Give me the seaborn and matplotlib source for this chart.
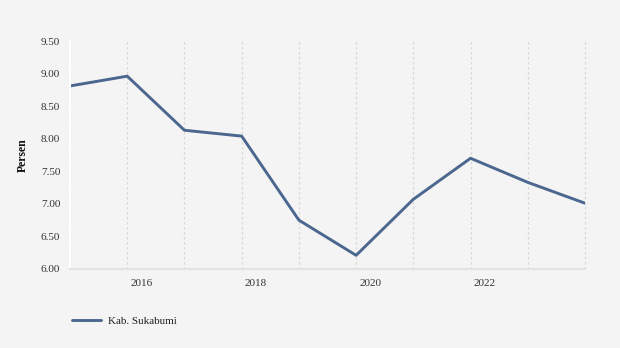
import matplotlib
matplotlib.use("Agg")
import matplotlib.pyplot as plt
import matplotlib.transforms as mtransforms
import seaborn as sns
import pandas as pd

years = [2015, 2016, 2017, 2018, 2019, 2020, 2021, 2022, 2023, 2024]
values = [8.81, 8.96, 8.13, 8.04, 6.75, 6.21, 7.07, 7.70, 7.33, 7.01]
series_name = "Kab. Sukabumi"
y_ticks = [6.00, 6.50, 7.00, 7.50, 8.00, 8.50, 9.00, 9.50]
x_tick_labels = [2016, 2018, 2020, 2022]

sns.set_style("white")
plt.rcParams['font.family'] = ['Liberation Serif', 'DejaVu Serif']

bg = "#f4f4f4"
fs = 8
fig = plt.figure(figsize=(6.2, 3.48), dpi=100, facecolor=bg)
ax = fig.add_axes([70/620, 1-269/348, (585-70)/620, (269-41)/348])
ax.set_facecolor(bg)

df = pd.DataFrame({"Tahun": years, "Persen": values, "Wilayah": series_name})
sns.lineplot(data=df, x="Tahun", y="Persen", hue="Wilayah", palette=["#4b678f"],
             linewidth=2.1, ax=ax, legend=True)

ax.set_xlim(2015, 2024)
ax.set_ylim(6.0, 9.5)

# vertical dotted gridlines at each year
for yr in years:
    ax.axvline(yr, color="#d8d8d8", linestyle=(0, (2, 2)), linewidth=0.9,
               zorder=0, clip_on=False)

ax.set_xticks(years)
ax.set_xticklabels([])
ax.tick_params(axis="x", which="both", length=4, width=1, color="#dddddd")

# x labels, shifted right of their gridlines
offset = mtransforms.ScaledTranslation(14/100, -15/100, fig.dpi_scale_trans)
trans = mtransforms.blended_transform_factory(ax.transData, ax.transAxes) + offset
for v in x_tick_labels:
    ax.text(v, 0, str(v), transform=trans, ha="center", va="center",
            fontsize=fs, color="#333333")

ax.set_yticks(y_ticks)
ax.set_yticklabels([f"{v:.2f}" for v in y_ticks], fontsize=fs, color="#333333")
ax.tick_params(axis="y", length=4, width=1, color="white", pad=3)

for s in ["top", "right"]:
    ax.spines[s].set_visible(False)
ax.spines["left"].set_color("white")
ax.spines["left"].set_linewidth(1.5)
ax.spines["bottom"].set_color("#e3e3e3")
ax.spines["bottom"].set_linewidth(1.5)

ax.set_xlabel("")
ax.set_ylabel("Persen", fontsize=8.5, fontweight="bold", color="#111111", labelpad=9)

handles, labels = ax.get_legend_handles_labels()
ax.legend(handles, labels, loc="lower left", bbox_to_anchor=(62/620, 12/348),
          bbox_transform=fig.transFigure, frameon=False, fontsize=fs,
          handlelength=2.6, handletextpad=0.6, labelcolor="#222222")

fig.savefig("out.png", dpi=100, facecolor=bg)
